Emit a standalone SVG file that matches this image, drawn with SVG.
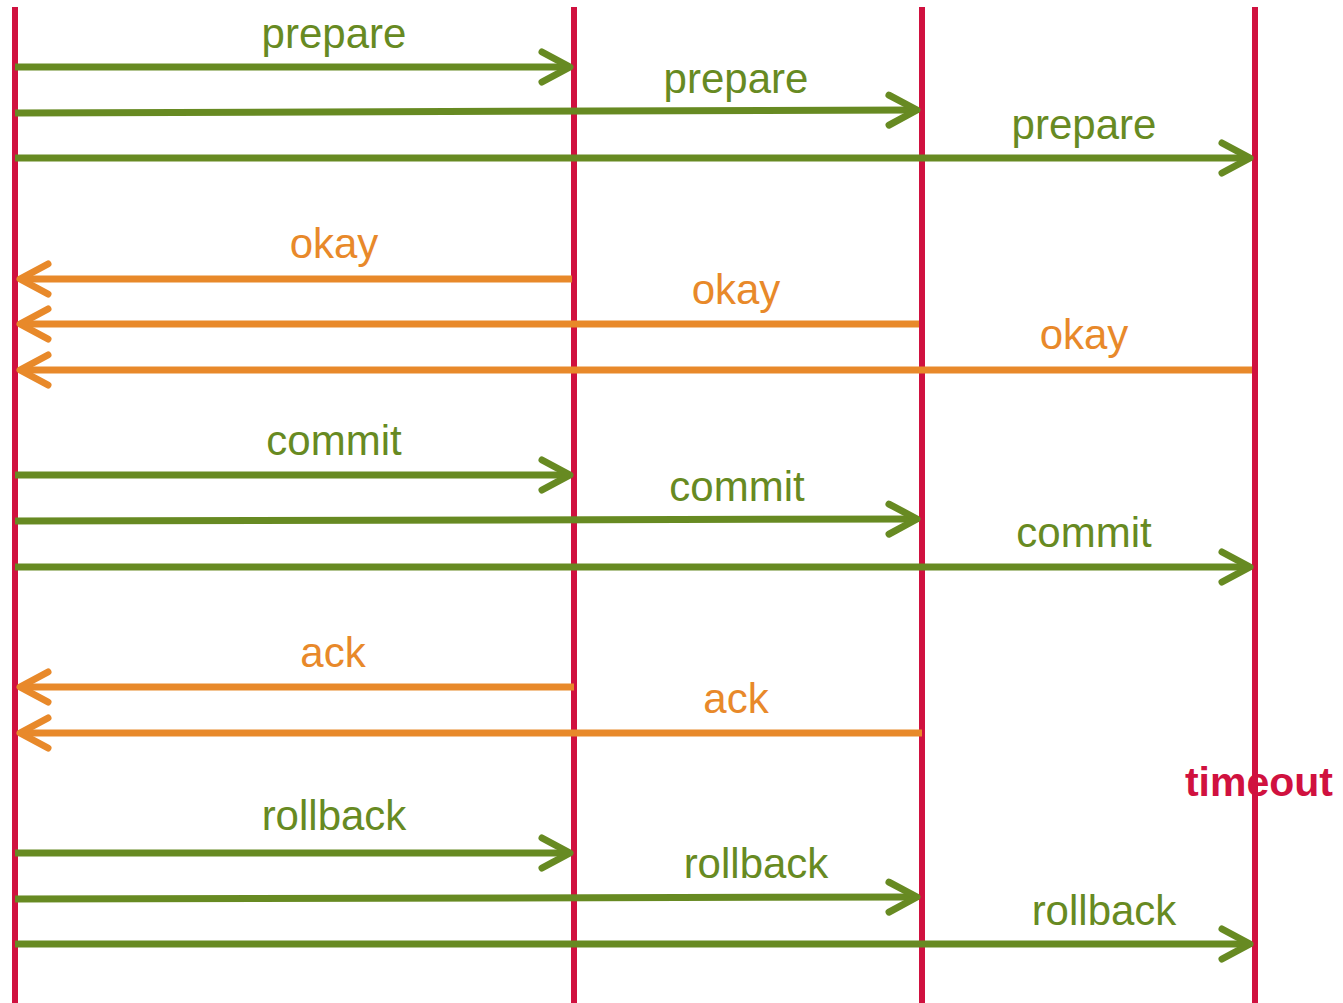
<svg xmlns="http://www.w3.org/2000/svg" width="1343" height="1003" viewBox="0 0 1343 1003">
  <style>
    .life { stroke: #d0113f; stroke-width: 6; fill: none; }
    .req { stroke: #678a22; stroke-width: 7; fill: none; marker-end: url(#headG); }
    .rep { stroke: #e8892a; stroke-width: 7; fill: none; marker-end: url(#headO); }
    .lbl { font-family: "Liberation Sans", Arial, sans-serif; font-size: 42px; text-anchor: middle; }
    .lg { fill: #678a22; }
    .lo { fill: #e8892a; }
    .to { font-family: "Liberation Sans", Arial, sans-serif; font-size: 41px; font-weight: bold; fill: #d0113f; text-anchor: middle; }
  </style>
  <defs>
    <marker id="headG" markerUnits="userSpaceOnUse" markerWidth="40" markerHeight="40" refX="32" refY="17" orient="auto" overflow="visible">
      <path d="M4 2 L32 17 L4 32" fill="none" stroke="#678a22" stroke-width="7" stroke-linecap="round" stroke-linejoin="round"/>
    </marker>
    <marker id="headO" markerUnits="userSpaceOnUse" markerWidth="40" markerHeight="40" refX="32" refY="17" orient="auto" overflow="visible">
      <path d="M4 2 L32 17 L4 32" fill="none" stroke="#e8892a" stroke-width="7" stroke-linecap="round" stroke-linejoin="round"/>
    </marker>
  </defs>
  <rect width="1343" height="1003" fill="#ffffff"/>

  <!-- lifelines of the four participants -->
  <g id="lifelines">
    <line id="coordinator" class="life" x1="15" y1="7" x2="15" y2="1003"/>
    <line id="participant1" class="life" x1="574" y1="7" x2="574" y2="1003"/>
    <line id="participant2" class="life" x1="922" y1="7" x2="922" y2="1003"/>
    <line id="participant3" class="life" x1="1255" y1="7" x2="1255" y2="1003"/>
  </g>

  <!-- messages -->
  <g id="connectors">
    <line class="req" x1="15" y1="67" x2="570" y2="67"/>
    <line class="req" x1="15" y1="113" x2="917" y2="110"/>
    <line class="req" x1="15" y1="158" x2="1250" y2="158"/>

    <line class="rep" x1="572" y1="279" x2="20" y2="279"/>
    <line class="rep" x1="919" y1="324" x2="20" y2="324"/>
    <line class="rep" x1="1252" y1="370" x2="20" y2="370"/>

    <line class="req" x1="15" y1="475" x2="570" y2="475"/>
    <line class="req" x1="15" y1="521" x2="917" y2="519"/>
    <line class="req" x1="15" y1="567" x2="1250" y2="567"/>

    <line class="rep" x1="574" y1="687" x2="20" y2="687"/>
    <line class="rep" x1="922" y1="733" x2="20" y2="733"/>

    <line class="req" x1="15" y1="853" x2="570" y2="853"/>
    <line class="req" x1="15" y1="899" x2="917" y2="897"/>
    <line class="req" x1="15" y1="944" x2="1250" y2="944"/>
  </g>

  <!-- message labels -->
  <g id="labels">
    <text class="lbl lg" x="334" y="48">prepare</text>
    <text class="lbl lg" x="736" y="93">prepare</text>
    <text class="lbl lg" x="1084" y="139">prepare</text>

    <text class="lbl lo" x="334" y="258">okay</text>
    <text class="lbl lo" x="736" y="304">okay</text>
    <text class="lbl lo" x="1084" y="349">okay</text>

    <text class="lbl lg" x="334" y="455">commit</text>
    <text class="lbl lg" x="737" y="501">commit</text>
    <text class="lbl lg" x="1084" y="547">commit</text>

    <text class="lbl lo" x="333" y="667">ack</text>
    <text class="lbl lo" x="736" y="713">ack</text>

    <text class="lbl lg" x="334" y="830">rollback</text>
    <text class="lbl lg" x="756" y="878">rollback</text>
    <text class="lbl lg" x="1104" y="925">rollback</text>
  </g>

  <g id="timeout">
    <text class="to" x="1259" y="796">timeout</text>
  </g>
</svg>
